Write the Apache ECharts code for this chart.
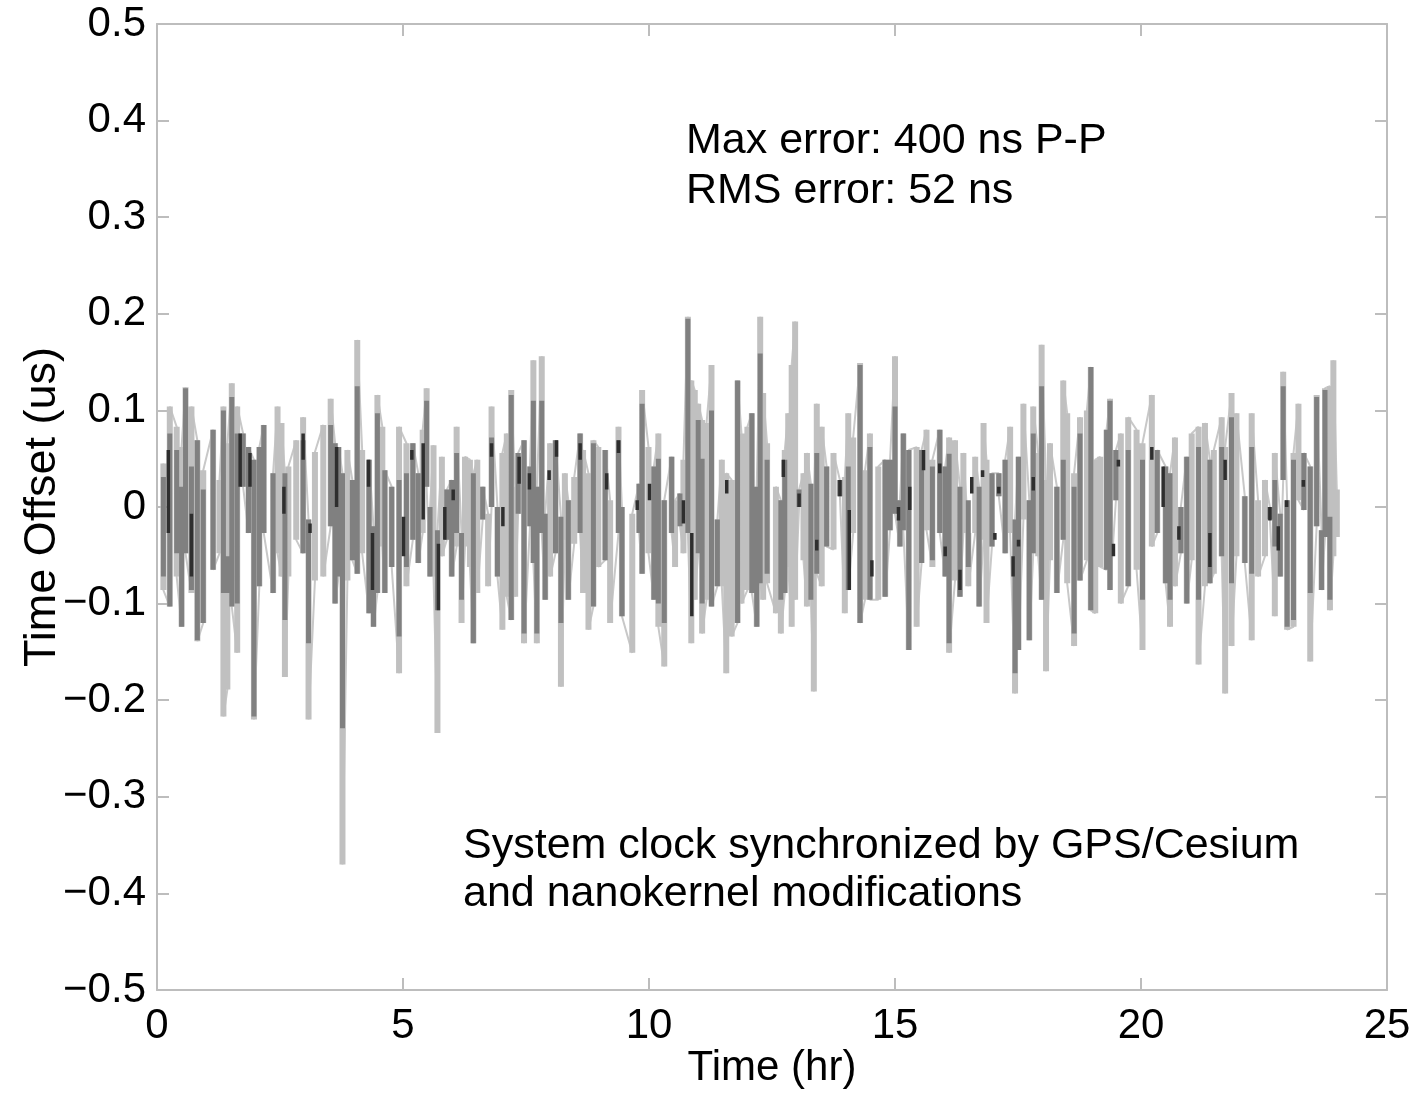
<!DOCTYPE html>
<html><head><meta charset="utf-8">
<script src="https://cdn.jsdelivr.net/npm/echarts@6/dist/echarts.min.js"></script>
<style>html,body{margin:0;padding:0;background:#fff}#c{width:1414px;height:1094px}</style>
</head><body><div id="c"></div><script>
// ---- data (hours, microseconds) ----
const xTicks = [0, 5, 10, 15, 20, 25];
const yTicks = [-0.5, -0.4, -0.3, -0.2, -0.1, 0, 0.1, 0.2, 0.3, 0.4, 0.5];
const annotation1 = ['Max error: 400 ns P-P', 'RMS error: 52 ns'];
const annotation2 = ['System clock synchronized by GPS/Cesium', 'and nanokernel modifications'];

// outer (light gray) trace: per time window, upper and lower excursion
const lightT = [0.13,0.26,0.40,0.50,0.58,0.70,0.82,0.94,1.14,1.27,1.35,1.43,1.52,1.63,1.75,1.86,1.97,2.08,2.17,2.36,2.45,2.53,2.60,2.67,2.83,2.97,3.08,3.21,3.38,3.53,3.62,3.69,3.77,3.87,3.97,4.07,4.17,4.31,4.40,4.48,4.58,4.63,4.77,4.92,5.07,5.20,5.31,5.40,5.48,5.55,5.62,5.70,5.79,5.89,5.99,6.09,6.19,6.26,6.36,6.43,6.51,6.62,6.73,6.80,6.92,7.02,7.11,7.20,7.28,7.34,7.46,7.58,7.65,7.72,7.82,7.89,7.99,8.10,8.21,8.29,8.36,8.48,8.60,8.66,8.77,8.87,8.97,9.11,9.21,9.38,9.45,9.66,9.80,9.86,9.99,10.10,10.19,10.31,10.46,10.53,10.63,10.70,10.79,10.86,10.93,11.00,11.08,11.17,11.27,11.39,11.48,11.57,11.68,11.80,11.88,12.00,12.09,12.19,12.26,12.32,12.40,12.58,12.68,12.76,12.83,12.90,12.97,13.05,13.14,13.21,13.29,13.35,13.41,13.51,13.61,13.75,13.88,13.98,14.05,14.15,14.29,14.39,14.49,14.66,14.80,14.90,15.00,15.10,15.17,15.28,15.44,15.54,15.64,15.76,15.91,16.02,16.10,16.22,16.32,16.39,16.49,16.63,16.71,16.80,16.86,16.97,17.11,17.24,17.34,17.44,17.51,17.61,17.73,17.81,17.91,17.98,18.07,18.15,18.29,18.42,18.50,18.64,18.76,18.90,18.98,19.07,19.17,19.30,19.37,19.49,19.59,19.74,19.91,20.03,20.22,20.33,20.50,20.59,20.69,20.81,20.93,21.03,21.17,21.30,21.40,21.48,21.64,21.71,21.84,21.94,22.11,22.25,22.38,22.52,22.62,22.72,22.83,22.89,22.97,23.10,23.20,23.31,23.44,23.57,23.67,23.74,23.84,23.91,23.98];
const lightHi = [0.045,0.104,0.083,0.062,0.124,0.104,0.069,0.038,0.08,0.028,0.104,0.066,0.128,0.104,0.076,0.062,0.049,0.062,0.085,0.035,0.104,0.087,0.035,0.042,0.069,0.093,-0.013,0.057,0.085,0.112,0.066,0.062,0.035,0.059,0.028,0.173,0.059,0.049,-0.02,0.116,0.083,0.038,0.021,0.083,0.066,0.066,0.035,0.08,0.123,0.0,0.064,-0.024,0.052,0.018,0.028,0.083,-0.027,0.052,0.049,0.035,0.049,0.021,-0.007,0.104,0.0,0.056,0.076,0.121,0.021,0.056,0.069,0.042,0.152,0.021,0.156,-0.007,0.066,0.069,-0.01,0.035,0.007,0.031,0.076,0.059,0.035,0.069,0.062,0.059,0.007,0.083,0.0,-0.007,0.024,0.121,0.062,0.042,0.076,0.007,0.052,0.007,0.014,0.049,0.197,0.131,0.121,0.107,0.09,0.087,0.147,-0.013,0.049,0.035,0.028,0.131,0.076,0.083,0.097,0.021,0.197,0.118,0.066,0.021,0.007,0.059,0.097,0.147,0.192,0.018,0.035,0.056,0.024,0.007,0.107,0.083,0.042,0.056,0.028,0.031,0.097,0.072,0.149,0.038,0.076,0.042,0.049,0.049,0.156,0.007,0.076,0.059,0.062,0.059,0.08,0.049,0.08,0.042,0.072,0.069,0.021,0.056,-0.027,0.052,0.021,0.087,0.049,0.035,0.035,0.049,0.083,-0.013,0.052,0.107,0.007,0.104,0.056,0.168,0.028,0.066,0.021,0.131,0.097,0.035,0.093,0.1,0.145,0.049,0.052,0.08,0.112,0.059,0.076,0.093,0.08,0.066,0.116,0.059,0.042,0.035,0.072,0.0,0.052,0.076,0.083,0.087,0.049,0.059,0.093,0.062,0.118,0.097,0.011,0.097,0.007,0.028,0.0,0.056,-0.007,0.14,0.007,0.056,0.107,0.056,0.042,0.116,-0.024,0.123,0.125,0.152,0.018];
const lightLo = [-0.086,-0.103,-0.072,-0.124,-0.048,-0.089,-0.139,-0.12,-0.065,-0.048,-0.217,-0.189,-0.103,-0.151,0.021,-0.027,-0.22,-0.082,-0.027,-0.089,-0.048,-0.072,-0.176,-0.072,-0.034,-0.048,-0.22,-0.076,-0.072,-0.02,-0.1,-0.072,-0.37,-0.076,-0.055,-0.069,-0.048,-0.11,-0.124,-0.089,-0.041,-0.089,-0.062,-0.172,-0.082,-0.034,-0.058,-0.027,0.021,-0.072,-0.072,-0.234,-0.051,-0.034,-0.072,-0.041,-0.12,-0.041,-0.062,-0.141,-0.089,-0.013,-0.082,0.0,-0.072,-0.127,-0.093,-0.117,-0.093,-0.007,-0.141,-0.02,-0.058,-0.141,-0.027,-0.096,-0.072,-0.048,-0.186,-0.034,-0.096,-0.038,-0.027,-0.089,-0.127,-0.103,-0.062,-0.055,-0.12,-0.027,-0.113,-0.151,-0.027,-0.069,-0.048,-0.096,-0.124,-0.165,-0.027,-0.062,-0.02,-0.048,-0.027,-0.141,-0.096,-0.048,-0.131,-0.096,-0.103,-0.082,-0.082,-0.172,-0.134,-0.12,-0.1,-0.086,-0.089,-0.124,-0.079,-0.096,-0.079,-0.11,-0.131,-0.089,-0.062,-0.124,-0.096,0.0,-0.055,-0.103,-0.096,-0.191,-0.069,-0.082,-0.041,-0.044,0.011,-0.11,-0.086,-0.027,-0.12,-0.096,-0.096,-0.096,-0.093,-0.024,-0.007,-0.041,-0.024,-0.148,-0.124,-0.058,-0.024,-0.062,-0.027,-0.072,-0.151,-0.076,-0.093,-0.027,-0.082,-0.027,-0.103,-0.034,-0.12,-0.041,0.011,-0.048,-0.027,-0.193,-0.148,-0.013,-0.138,-0.048,-0.051,-0.096,-0.17,-0.055,-0.089,-0.034,-0.079,-0.144,-0.076,-0.055,-0.107,-0.11,-0.062,-0.065,-0.086,0.007,-0.1,-0.082,-0.065,-0.148,-0.041,-0.027,-0.079,-0.124,-0.082,-0.048,-0.1,-0.055,-0.163,-0.082,-0.079,-0.069,-0.051,-0.193,-0.144,-0.051,-0.058,-0.138,-0.072,-0.051,-0.013,-0.113,-0.072,0.028,-0.127,-0.124,0.007,-0.003,-0.16,-0.02,-0.086,-0.031,-0.107,-0.051,-0.031];

// middle (gray) trace
const grayT = [0.13,0.26,0.40,0.50,0.58,0.70,0.82,0.94,1.14,1.35,1.43,1.52,1.63,1.75,1.86,1.97,2.08,2.17,2.36,2.60,2.97,3.08,3.53,3.62,3.69,3.77,3.97,4.07,4.31,4.40,4.48,4.63,4.77,4.92,5.07,5.20,5.31,5.48,5.55,5.70,5.89,5.99,6.09,6.19,6.43,6.62,6.80,6.92,7.20,7.34,7.46,7.58,7.65,7.72,7.82,7.89,8.10,8.21,8.36,8.60,8.87,9.11,9.38,9.45,9.80,9.86,10.10,10.19,10.31,10.46,10.63,10.79,11.00,11.08,11.27,11.39,11.80,12.09,12.19,12.26,12.40,12.68,12.76,13.05,13.29,13.41,13.61,13.88,14.05,14.29,14.49,14.80,14.90,15.00,15.10,15.17,15.28,15.54,15.76,15.91,16.02,16.10,16.32,16.49,16.71,16.97,17.11,17.24,17.44,17.51,17.73,17.81,17.98,18.29,18.42,18.64,18.76,18.98,19.30,19.37,19.49,19.74,20.03,20.33,20.50,20.59,20.81,20.93,21.17,21.40,21.64,21.84,22.11,22.25,22.62,22.72,22.83,22.89,22.97,23.10,23.31,23.44,23.57,23.67,23.74,23.84];
const grayHi = [0.031,0.076,0.059,0.021,0.123,0.042,0.069,0.018,0.08,0.1,-0.051,0.114,0.076,0.076,0.062,0.049,0.062,0.085,0.035,0.035,0.069,-0.013,0.085,0.066,0.062,0.035,0.028,0.125,0.049,-0.02,0.097,0.038,0.021,0.028,0.035,0.066,0.035,0.11,0.0,-0.024,0.018,0.028,0.056,-0.027,0.035,0.021,0.072,0.0,0.116,0.056,0.069,0.042,0.11,0.021,0.11,-0.007,0.069,-0.01,0.007,0.076,0.066,0.059,0.069,0.0,0.024,0.107,0.042,0.05,0.007,0.052,0.014,0.195,0.09,0.05,0.1,-0.013,0.131,0.097,0.021,0.159,0.049,0.007,0.049,0.018,0.024,0.056,0.042,0.028,0.042,0.147,0.062,0.049,0.049,0.104,0.007,0.076,0.059,0.059,0.042,0.08,0.042,0.055,0.021,0.007,0.021,0.035,0.035,0.049,-0.013,0.052,0.007,0.076,0.125,0.021,0.049,0.021,0.076,0.145,0.08,0.11,0.059,0.059,0.049,0.059,0.042,0.035,0.0,0.052,0.062,0.049,0.062,0.093,0.011,0.062,0.0,0.028,-0.007,0.125,0.007,0.049,0.056,0.042,0.114,-0.024,0.121,-0.01];
const grayLo = [-0.072,-0.103,-0.048,-0.124,-0.048,-0.086,-0.138,-0.12,-0.065,-0.089,-0.089,-0.103,-0.1,0.021,-0.027,-0.217,-0.082,-0.027,-0.089,-0.117,-0.048,-0.141,-0.02,-0.1,-0.072,-0.229,-0.055,-0.069,-0.11,-0.124,-0.089,-0.089,-0.062,-0.134,-0.062,-0.034,-0.058,0.021,-0.072,-0.107,-0.034,-0.072,-0.027,-0.096,-0.141,-0.013,0.0,-0.072,-0.117,-0.007,-0.131,-0.02,-0.058,-0.131,-0.027,-0.096,-0.048,-0.12,-0.096,-0.027,-0.103,-0.055,-0.027,-0.113,-0.027,-0.069,-0.096,-0.1,-0.12,-0.027,-0.02,-0.027,-0.048,-0.1,-0.103,-0.082,-0.12,-0.089,-0.124,-0.079,-0.069,-0.096,-0.089,0.0,-0.096,-0.069,-0.041,0.011,-0.086,-0.12,-0.096,-0.093,-0.024,-0.007,-0.041,-0.024,-0.148,-0.058,-0.055,-0.027,-0.072,-0.141,-0.093,-0.062,-0.103,-0.041,0.011,-0.048,-0.172,-0.148,-0.138,-0.048,-0.096,-0.089,-0.034,-0.131,-0.076,-0.107,-0.065,-0.086,0.007,-0.082,-0.096,-0.027,-0.079,-0.096,-0.048,-0.1,-0.096,-0.079,-0.051,-0.079,-0.058,-0.069,-0.013,-0.041,-0.072,0.028,-0.124,-0.117,-0.003,-0.089,-0.02,-0.086,-0.031,-0.096];

// dense core (dark) strokes
const darkT = [0.23,0.70,1.69,1.89,2.58,2.97,3.11,3.65,4.30,4.38,5.01,5.18,5.41,5.72,5.85,6.02,6.80,7.03,7.36,7.57,7.97,8.12,8.60,9.14,9.38,9.76,10.01,10.70,10.87,11.58,12.73,13.05,13.41,13.88,14.07,14.53,15.07,15.30,15.58,15.91,16.02,16.32,16.56,16.78,17.03,17.11,17.40,17.51,17.81,19.44,19.54,20.22,20.45,20.77,21.40,21.71,22.62,22.79,22.96,23.30];
const darkHi = [0.059,-0.007,0.076,0.056,0.021,0.076,-0.017,0.062,0.049,-0.027,-0.01,0.059,0.066,-0.038,0.0,0.018,0.066,0.0,0.052,0.035,0.038,0.069,0.066,0.035,0.069,0.007,0.024,0.007,-0.027,0.028,0.049,0.014,-0.034,0.028,-0.003,-0.055,0.0,0.021,0.059,0.045,-0.041,-0.065,0.031,0.038,-0.027,0.021,-0.051,-0.034,0.031,-0.038,0.049,0.062,0.042,-0.02,-0.027,0.049,0.0,-0.02,0.007,0.028];
const darkLo = [-0.027,-0.072,0.021,0.021,-0.007,0.049,-0.027,0.0,0.021,-0.086,-0.051,0.049,-0.013,-0.107,-0.034,0.007,0.052,-0.02,0.024,0.018,0.028,0.052,0.049,0.018,0.056,-0.003,0.007,-0.017,-0.113,0.014,0.031,0.0,-0.045,0.011,-0.086,-0.072,-0.014,-0.003,0.038,0.035,-0.051,-0.086,0.014,0.031,-0.034,0.014,-0.072,-0.041,0.017,-0.051,0.042,0.049,0.0,-0.034,-0.062,0.028,-0.014,-0.045,0.0,0.021];

// ---- build series data: one vertical stroke per time window ----
function strokes(T, H, L) {
  const out = [];
  for (let i = 0; i < T.length; i++) {
    out.push([T[i], H[i]]); out.push([T[i], L[i]]); out.push([T[i], '-']);
  }
  return out;
}
// thin connecting trace through successive windows (alternating extremes)
function zigzag(T, H, L) {
  const out = [];
  for (let i = 0; i < T.length; i++) {
    if (i % 2 === 0) { out.push([T[i], H[i]]); out.push([T[i], L[i]]); }
    else { out.push([T[i], L[i]]); out.push([T[i], H[i]]); }
  }
  return out;
}

const FONT = '"Liberation Sans", Arial, Helvetica, sans-serif';
const AX = '#bdbdbd';
const fmtY = v => Math.abs(v) < 1e-9 ? '0' : v.toFixed(1).replace('-', '\u2212');

const chart = echarts.init(document.getElementById('c'), null, {renderer: 'canvas'});
const axisCommon = () => ({
  axisLine: {show: true, onZero: false, lineStyle: {color: AX, width: 2}},
  axisTick: {show: true, inside: true, length: 12, lineStyle: {color: AX, width: 2}},
  splitLine: {show: false}
});
chart.setOption({
  animation: false,
  backgroundColor: '#fff',
  grid: {left: 157, right: 27, top: 24, bottom: 104, containLabel: false, outerBoundsMode: 'none'},
  xAxis: [
    Object.assign({
      type: 'value', min: xTicks[0], max: xTicks[xTicks.length - 1], interval: 5, position: 'bottom',
      axisLabel: {color: '#000', fontSize: 42, fontFamily: FONT, margin: 15},
      name: 'Time (hr)', nameLocation: 'middle', nameGap: 57, nameMoveOverlap: false,
      nameTextStyle: {color: '#000', fontSize: 42, fontFamily: FONT}
    }, axisCommon()),
    Object.assign({
      type: 'value', min: xTicks[0], max: xTicks[xTicks.length - 1], interval: 5, position: 'top',
      axisLabel: {show: false}
    }, axisCommon())
  ],
  yAxis: [
    Object.assign({
      type: 'value', min: yTicks[0], max: yTicks[yTicks.length - 1], interval: 0.1, position: 'left',
      axisLabel: {color: '#000', fontSize: 42, fontFamily: FONT, margin: 11, formatter: fmtY},
      name: 'Time Offset (us)', nameLocation: 'middle', nameGap: 92, nameMoveOverlap: false,
      nameTextStyle: {color: '#000', fontSize: 45, fontFamily: FONT}
    }, axisCommon()),
    Object.assign({
      type: 'value', min: yTicks[0], max: yTicks[yTicks.length - 1], interval: 0.1, position: 'right',
      axisLabel: {show: false}
    }, axisCommon())
  ],
  series: [
    {type: 'line', xAxisIndex: 0, yAxisIndex: 0, showSymbol: false, z: 1,
     data: zigzag(lightT, lightHi, lightLo),
     lineStyle: {color: '#c8c8c8', width: 2, join: 'bevel'}},
    {type: 'line', xAxisIndex: 0, yAxisIndex: 0, showSymbol: false, z: 2, connectNulls: false,
     data: strokes(lightT, lightHi, lightLo),
     lineStyle: {color: '#c0c0c0', width: 6, cap: 'butt'}},
    {type: 'line', xAxisIndex: 0, yAxisIndex: 0, showSymbol: false, z: 3, connectNulls: false,
     data: strokes(grayT, grayHi, grayLo),
     lineStyle: {color: '#808080', width: 5, cap: 'butt'}},
    {type: 'line', xAxisIndex: 0, yAxisIndex: 0, showSymbol: false, z: 4, connectNulls: false,
     data: strokes(darkT, darkHi, darkLo),
     lineStyle: {color: '#2e2e2e', width: 3.5, cap: 'butt'}}
  ],
  graphic: [
    {type: 'text', x: 686, y: 141, z: 10, style: {text: annotation1[0], font: '43px ' + FONT, fill: '#000', verticalAlign: 'middle'}},
    {type: 'text', x: 686, y: 191, z: 10, style: {text: annotation1[1], font: '43px ' + FONT, fill: '#000', verticalAlign: 'middle'}},
    {type: 'text', x: 463, y: 846, z: 10, style: {text: annotation2[0], font: '43px ' + FONT, fill: '#000', verticalAlign: 'middle'}},
    {type: 'text', x: 463, y: 894, z: 10, style: {text: annotation2[1], font: '43px ' + FONT, fill: '#000', verticalAlign: 'middle'}}
  ]
});
</script></body></html>
